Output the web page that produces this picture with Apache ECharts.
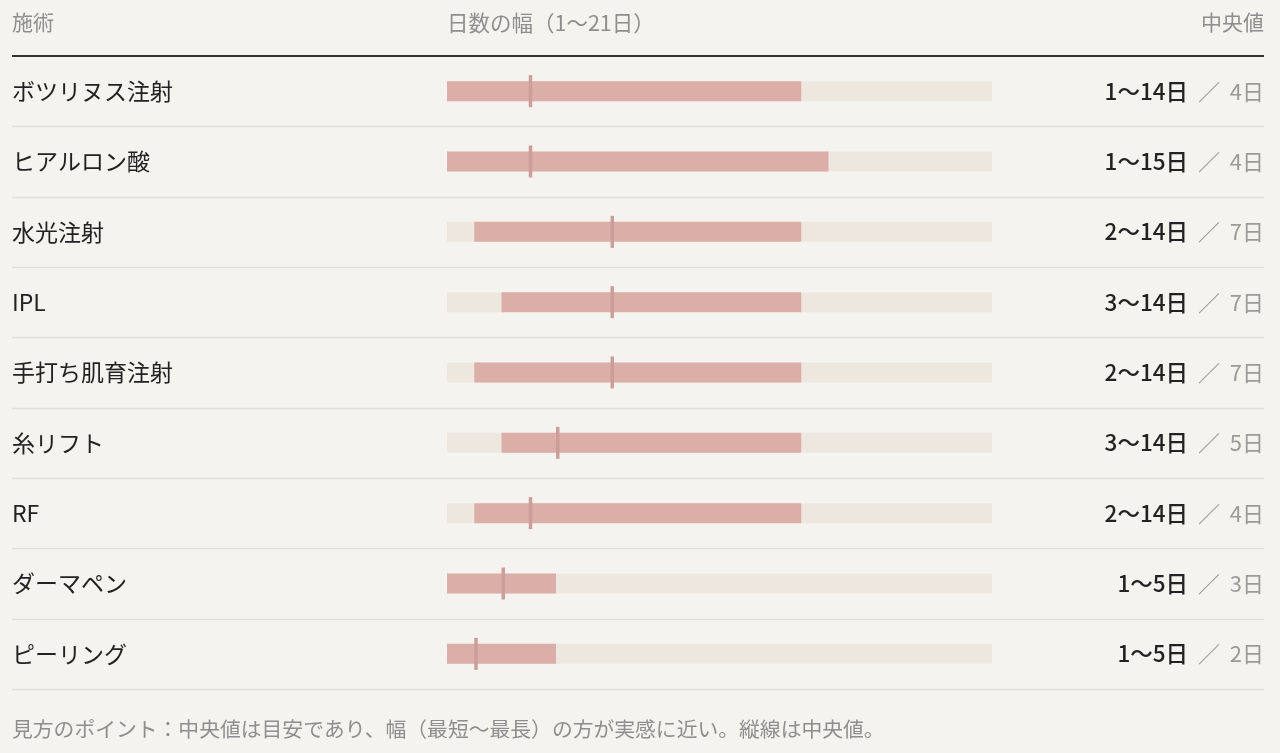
<!DOCTYPE html>
<html>
<head>
<meta charset="utf-8">
<script src="https://cdn.jsdelivr.net/npm/echarts@6/dist/echarts.min.js"></script>
<style>
html,body{margin:0;padding:0;background:#f5f3f0;}
#c{width:1280px;height:753px;}
</style>
</head>
<body>
<div id="c"></div>
<script>
const treatments = ['ボツリヌス注射','ヒアルロン酸','水光注射','IPL','手打ち肌育注射','糸リフト','RF','ダーマペン','ピーリング'];
const minDays = [1,1,2,3,2,3,2,1,1];
const maxDays = [14,15,14,14,14,14,14,5,5];
const medianDays = [4,4,7,7,7,5,4,3,2];
const axisMinDay = 1;
const axisMaxDay = 21;
const headerTexts = ['施術','日数の幅（1〜21日）','中央値'];
const footerText = '見方のポイント：中央値は目安であり、幅（最短〜最長）の方が実感に近い。縦線は中央値。';

const FONT = '"Noto Sans CJK JP","Noto Sans",sans-serif';
const chart = echarts.init(document.getElementById('c'));

const data = treatments.map((t,i)=>[i, minDays[i], maxDays[i], medianDays[i]]);

chart.setOption({
  backgroundColor:'#f5f3f0',
  animation:false,
  grid:{left:447, right:288, top:56, bottom:64},
  xAxis:{type:'value', min:axisMinDay, max:axisMaxDay, show:false},
  yAxis:[{
    type:'category', data:treatments, inverse:true,
    axisLine:{show:false}, axisTick:{show:false}, splitLine:{show:false},
    axisLabel:{align:'left', margin:435, fontSize:23, color:'#222', fontFamily:FONT}
  },{
    type:'category', data:treatments, inverse:true, position:'right',
    axisLine:{show:false}, axisTick:{show:false}, splitLine:{show:false},
    axisLabel:{
      align:'right', margin:272, fontFamily:FONT,
      formatter:(v,i)=>`{a|${minDays[i]}〜${maxDays[i]}日}{b|  ／  ${medianDays[i]}日}`,
      rich:{
        a:{fontSize:22.5, color:'#222', fontWeight:500, fontFamily:FONT},
        b:{fontSize:22, color:'#9a9a9a', fontFamily:FONT}
      }
    }
  }],
  graphic:[
    {type:'text', left:12, top:12, style:{text:headerTexts[0], fontSize:21, fill:'#8e8e8e', fontFamily:FONT}},
    {type:'text', left:447, top:12, style:{text:headerTexts[1], fontSize:21.5, fill:'#8e8e8e', fontFamily:FONT}},
    {type:'text', right:16, top:12, style:{text:headerTexts[2], fontSize:21, fill:'#8e8e8e', fontFamily:FONT}},
    {type:'line', shape:{x1:12, y1:56, x2:1264, y2:56}, style:{stroke:'#333', lineWidth:2}},
    {type:'text', left:12, top:719, style:{text:footerText, fontSize:20.8, fill:'#8e8e8e', fontFamily:FONT}}
  ],
  series:[{
    type:'custom',
    clip:false,
    encode:{x:[1,2,3], y:0},
    data:data,
    renderItem:(params, api)=>{
      const idx = api.value(0);
      const c0 = api.coord([axisMinDay, idx]);
      const c1 = api.coord([axisMaxDay, idx]);
      const s = api.coord([api.value(1), idx]);
      const e = api.coord([api.value(2), idx]);
      const m = api.coord([api.value(3), idx]);
      const band = api.size([0,1])[1];
      const cy = c0[1];
      const h = 20;
      const ySep = Math.round(cy + band/2) + 0.5;
      return {type:'group', children:[
        {type:'line', shape:{x1:12, y1:ySep, x2:api.getWidth()-16, y2:ySep}, style:{stroke:'#e1ddd8', lineWidth:1.5}},
        {type:'rect', shape:{x:c0[0], y:cy-h/2, width:c1[0]-c0[0], height:h}, style:{fill:'#ede7e0'}},
        {type:'rect', shape:{x:s[0], y:cy-h/2, width:e[0]-s[0], height:h}, style:{fill:'#dbaea7'}},
        {type:'rect', shape:{x:m[0], y:cy-16, width:3.5, height:32}, style:{fill:'#cc9e99'}}
      ]};
    }
  }]
});
</script>
</body>
</html>
